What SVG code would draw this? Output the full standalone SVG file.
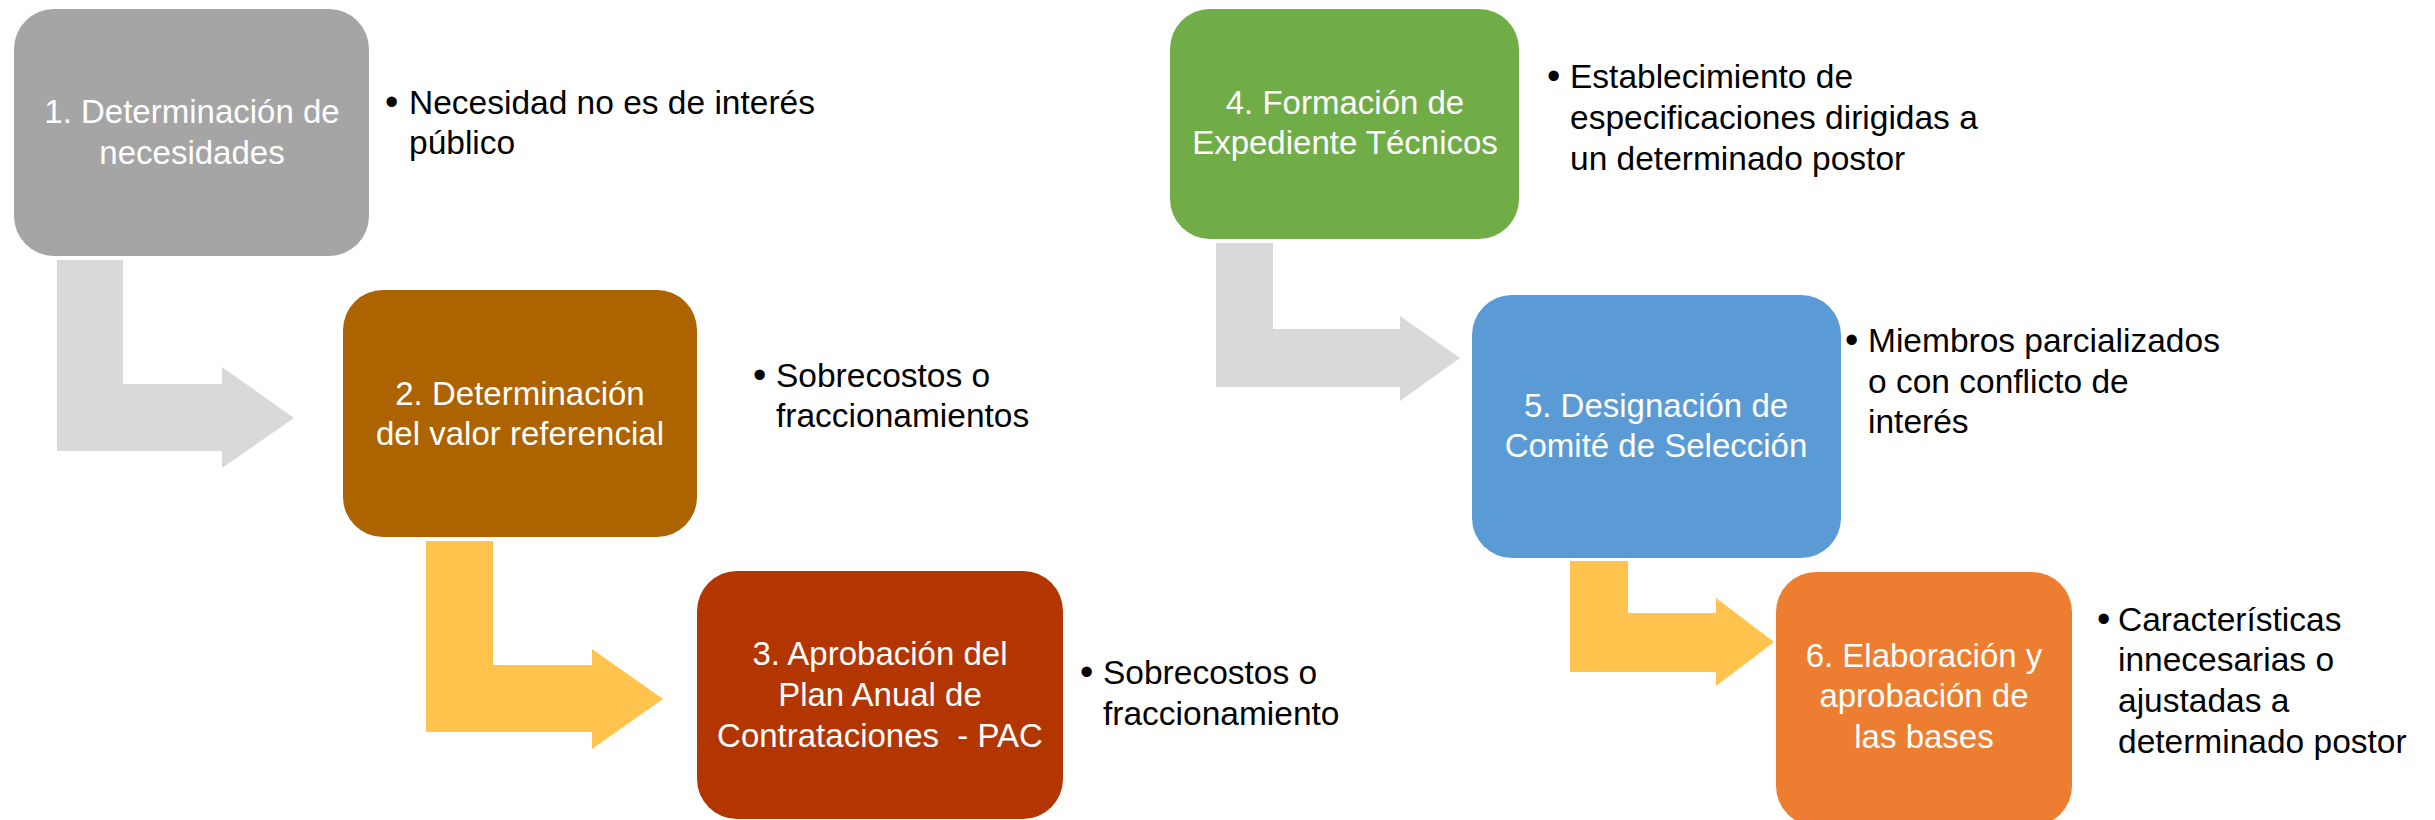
<svg xmlns="http://www.w3.org/2000/svg" width="2435" height="820" viewBox="0 0 2435 820">
<style>
.box-t{font-family:"Liberation Sans",Arial,sans-serif;font-size:33px;fill:#FFFFFF;text-anchor:middle}
.bul-t{font-family:"Liberation Sans",Arial,sans-serif;font-size:33.5px;fill:#000000}
.dot{font-family:"Liberation Sans",Arial,sans-serif;font-size:38px;fill:#000000}
.gray{fill:#D9D9D9}
.gold{fill:#FFC34E}
</style>
<rect width="2435" height="820" fill="#FFFFFF"/>
<g id="connectors">
<polygon class="gray" points="57,260 123,260 123,384 222,384 222,367 294,418 222,468 222,451 57,451"/>
<polygon class="gold" points="426,541 493,541 493,665 592,665 592,649 663,699 592,749 592,732 426,732"/>
<polygon class="gray" points="1216,243 1273,243 1273,329 1400,329 1400,316 1460,358 1400,401 1400,387 1216,387"/>
<polygon class="gold" points="1570,561 1628,561 1628,613 1716,613 1716,598 1774,642 1716,686 1716,672 1570,672"/>
</g>
<g id="node1">
<rect x="14" y="9" width="355" height="247" rx="40" fill="#A5A5A5"/>
<text class="box-t" x="192" y="123">1. Determinación de</text>
<text class="box-t" x="192" y="164">necesidades</text>
</g>
<g id="node2">
<rect x="343" y="290" width="354" height="247" rx="40" fill="#AD6400"/>
<text class="box-t" x="520" y="405">2. Determinación</text>
<text class="box-t" x="520" y="445">del valor referencial</text>
</g>
<g id="node3">
<rect x="697" y="571" width="366" height="248" rx="40" fill="#B33600"/>
<text class="box-t" x="880" y="665">3. Aprobación del</text>
<text class="box-t" x="880" y="706">Plan Anual de</text>
<text class="box-t" x="880" y="747" xml:space="preserve">Contrataciones  - PAC</text>
</g>
<g id="node4">
<rect x="1170" y="9" width="349" height="230" rx="40" fill="#70AD47"/>
<text class="box-t" x="1345" y="114">4. Formación de</text>
<text class="box-t" x="1345" y="154">Expediente Técnicos</text>
</g>
<g id="node5">
<rect x="1472" y="295" width="369" height="263" rx="40" fill="#5B9BD5"/>
<text class="box-t" x="1656" y="417">5. Designación de</text>
<text class="box-t" x="1656" y="457">Comité de Selección</text>
</g>
<g id="node6">
<rect x="1776" y="572" width="296" height="254" rx="40" fill="#ED7D31"/>
<text class="box-t" x="1924" y="667">6. Elaboración y</text>
<text class="box-t" x="1924" y="707">aprobación de</text>
<text class="box-t" x="1924" y="748">las bases</text>
</g>
<g id="note1">
<text class="dot" x="385" y="115">•</text>
<text class="bul-t" x="409" y="114">Necesidad no es de interés</text>
<text class="bul-t" x="409" y="154">público</text>
</g>
<g id="note2">
<text class="dot" x="753" y="388">•</text>
<text class="bul-t" x="776" y="387">Sobrecostos o</text>
<text class="bul-t" x="776" y="427">fraccionamientos</text>
</g>
<g id="note3">
<text class="dot" x="1080" y="685">•</text>
<text class="bul-t" x="1103" y="684">Sobrecostos o</text>
<text class="bul-t" x="1103" y="725">fraccionamiento</text>
</g>
<g id="note4">
<text class="dot" x="1547" y="89">•</text>
<text class="bul-t" x="1570" y="88">Establecimiento de</text>
<text class="bul-t" x="1570" y="129">especificaciones dirigidas a</text>
<text class="bul-t" x="1570" y="170">un determinado postor</text>
</g>
<g id="note5">
<text class="dot" x="1845" y="353">•</text>
<text class="bul-t" x="1868" y="352">Miembros parcializados</text>
<text class="bul-t" x="1868" y="393">o con conflicto de</text>
<text class="bul-t" x="1868" y="433">interés</text>
</g>
<g id="note6">
<text class="dot" x="2097" y="632">•</text>
<text class="bul-t" x="2118" y="631">Características</text>
<text class="bul-t" x="2118" y="671">innecesarias o</text>
<text class="bul-t" x="2118" y="712">ajustadas a</text>
<text class="bul-t" x="2118" y="753">determinado postor</text>
</g>
</svg>
